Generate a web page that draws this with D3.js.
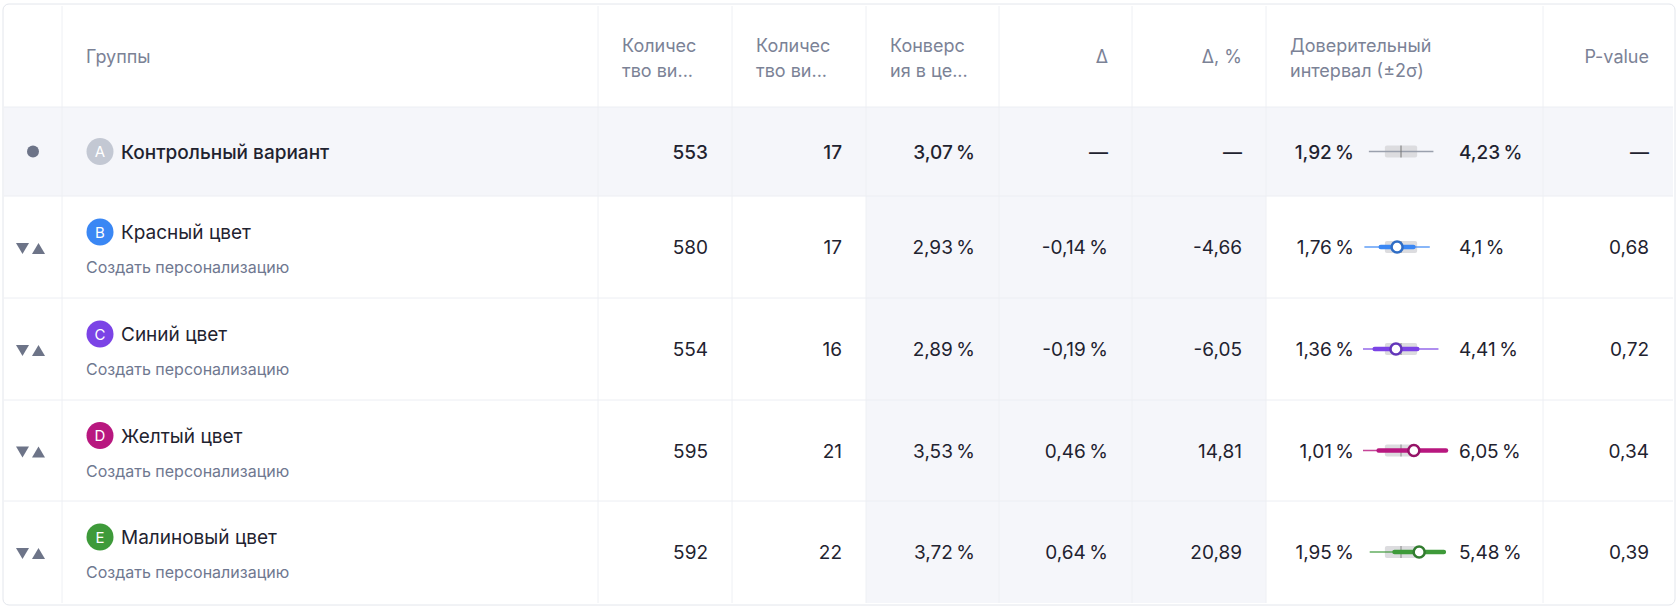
<!DOCTYPE html><html><head><meta charset="utf-8">
<script src="https://cdn.jsdelivr.net/npm/d3@7"></script>
<style>body{margin:0;background:#fff}svg{display:block;font-family:Inter,"Noto Sans",sans-serif}</style></head><body>
<svg id="c" width="1680" height="611"></svg>
<script>
const letters=["A","B","C","D","E"];
const groups=["Контрольный вариант","Красный цвет","Синий цвет","Желтый цвет","Малиновый цвет"];
const colors=["#c3c8d3","#3a87f4","#7b43e6","#b8177f","#3e9a3a"];
const visitors=[553,580,554,595,592];
const goals=[17,17,16,21,22];
const conv=[3.07,2.93,2.89,3.53,3.72];
const delta=["—","-0,14\u2009%","-0,19\u2009%","0,46\u2009%","0,64\u2009%"];
const deltaPct=["—","-4,66","-6,05","14,81","20,89"];
const ciLow=[1.92,1.76,1.36,1.01,1.95];
const ciHigh=[4.23,4.1,4.41,6.05,5.48];
const ciLabLow=["1,92\u2009%","1,76\u2009%","1,36\u2009%","1,01\u2009%","1,95\u2009%"];
const ciLabHigh=["4,23\u2009%","4,1\u2009%","4,41\u2009%","6,05\u2009%","5,48\u2009%"];
const pval=["—","0,68","0,72","0,34","0,39"];
const headers=[[],["Группы"],["Количес","тво ви..."],["Количес","тво ви..."],["Конверс","ия в це..."],["Δ"],["Δ, %"],["Доверительный","интервал (±2σ)"],["P-value"]];
const colEdges=[4,62,598,732,866,999,1132,1266,1543,1673];
const rowEdges=[6,107,196,298,400,501,603];
const svg=d3.select("#c");
const fmt=v=>v.toFixed(2).replace(".",",")+"\u2009%";
svg.append("rect").attr("x",3).attr("y",4).attr("width",1672).attr("height",601).attr("rx",6).attr("fill","#fff").attr("stroke","#e3e6ec");
svg.append("rect").attr("x",4).attr("y",rowEdges[1]).attr("width",1669).attr("height",rowEdges[2]-rowEdges[1]).attr("fill","#f5f6fa");
svg.append("rect").attr("x",colEdges[4]).attr("y",rowEdges[2]).attr("width",colEdges[7]-colEdges[4]).attr("height",rowEdges[6]-rowEdges[2]).attr("fill","#f5f6fa");
colEdges.slice(1,-1).forEach(x=>svg.append("line").attr("x1",x).attr("x2",x).attr("y1",6).attr("y2",603).attr("stroke","#eef0f4"));
rowEdges.slice(1,-1).forEach(y=>svg.append("line").attr("x1",4).attr("x2",1673).attr("y1",y).attr("y2",y).attr("stroke","#eceef3"));
headers.forEach((h,i)=>{if(!h.length)return;const right=i>=5&&i!==7;const x=right?colEdges[i+1]-24:colEdges[i]+24;
 const y0=h.length>1?52:63;
 h.forEach((t,k)=>svg.append("text").attr("x",x).attr("y",y0+k*25).attr("text-anchor",right?"end":"start").attr("font-size",18).attr("fill","#7b8296").text(t));});
const xs=d3.scaleLinear().domain([1.71,4.68]).range([1363,1446]).clamp(true);
const sigma=ciLow.map((l,i)=>(ciHigh[i]-l)/4);
groups.forEach((g,i)=>{
 const y0=rowEdges[i+1],y1=rowEdges[i+2],cy=(y0+y1)/2;
 const ctrl=i===0, ny=ctrl?cy:cy-15;
 const G=svg.append("g");
 if(ctrl) G.append("circle").attr("cx",33).attr("cy",cy).attr("r",6).attr("fill","#6d7488");
 else {G.append("path").attr("d",`M16,${cy-4}h13l-6.5,11z`).attr("fill","#6d7488");G.append("path").attr("d",`M32,${cy+7}h13l-6.5,-11z`).attr("fill","#6d7488");}
 G.append("circle").attr("cx",100).attr("cy",ny).attr("r",13.5).attr("fill",colors[i]);
 G.append("text").attr("x",100).attr("y",ny+5.5).attr("text-anchor","middle").attr("font-size",15).attr("fill","#fff").text(letters[i]);
 G.append("text").attr("x",121).attr("y",ny+7).attr("font-size",19).attr("font-weight",ctrl?500:400).attr("fill","#1f2330").text(g);
 if(!ctrl) G.append("text").attr("x",86).attr("y",cy+26).attr("font-size",16).attr("fill","#6f7890").text("Создать персонализацию");
 const w=ctrl?500:400;
 const cell=(c,t)=>G.append("text").attr("x",colEdges[c+1]-24).attr("y",cy+7).attr("text-anchor","end").attr("font-size",19).attr("font-weight",w).attr("fill","#1f2330").text(t);
 cell(2,visitors[i]);cell(3,goals[i]);cell(4,fmt(conv[i]));cell(5,delta[i]);cell(6,deltaPct[i]);cell(8,pval[i]);
 G.append("text").attr("x",1354).attr("y",cy+7).attr("text-anchor","end").attr("font-size",19).attr("font-weight",w).attr("fill","#1f2330").text(ciLabLow[i]);
 G.append("text").attr("x",1459).attr("y",cy+7).attr("font-size",19).attr("font-weight",w).attr("fill","#1f2330").text(ciLabHigh[i]);
 G.append("rect").attr("x",xs(conv[0]-sigma[0])).attr("width",xs(conv[0]+sigma[0])-xs(conv[0]-sigma[0])).attr("y",cy-6).attr("height",12).attr("rx",2).attr("fill","#dcdcdf");
 const c=ctrl?"#9aa0ad":colors[i];
 G.append("line").attr("x1",xs(ciLow[i])).attr("x2",xs(ciHigh[i])).attr("y1",cy).attr("y2",cy).attr("stroke",c).attr("stroke-width",1.3).attr("opacity",ctrl?1:0.8);
 G.append("line").attr("x1",xs(conv[0])).attr("x2",xs(conv[0])).attr("y1",cy-6).attr("y2",cy+6).attr("stroke",ctrl?"#777":"#888");
 if(!ctrl){
  G.append("line").attr("x1",xs(conv[i]-sigma[i])).attr("x2",xs(conv[i]+sigma[i])).attr("y1",cy).attr("y2",cy).attr("stroke",c).attr("stroke-width",4.5).attr("stroke-linecap","round");
  G.append("circle").attr("cx",xs(conv[i])).attr("cy",cy).attr("r",5.5).attr("fill","#fff").attr("stroke",d3.color(c).darker(0.6)).attr("stroke-width",2.5);
 }
});
</script></body></html>
